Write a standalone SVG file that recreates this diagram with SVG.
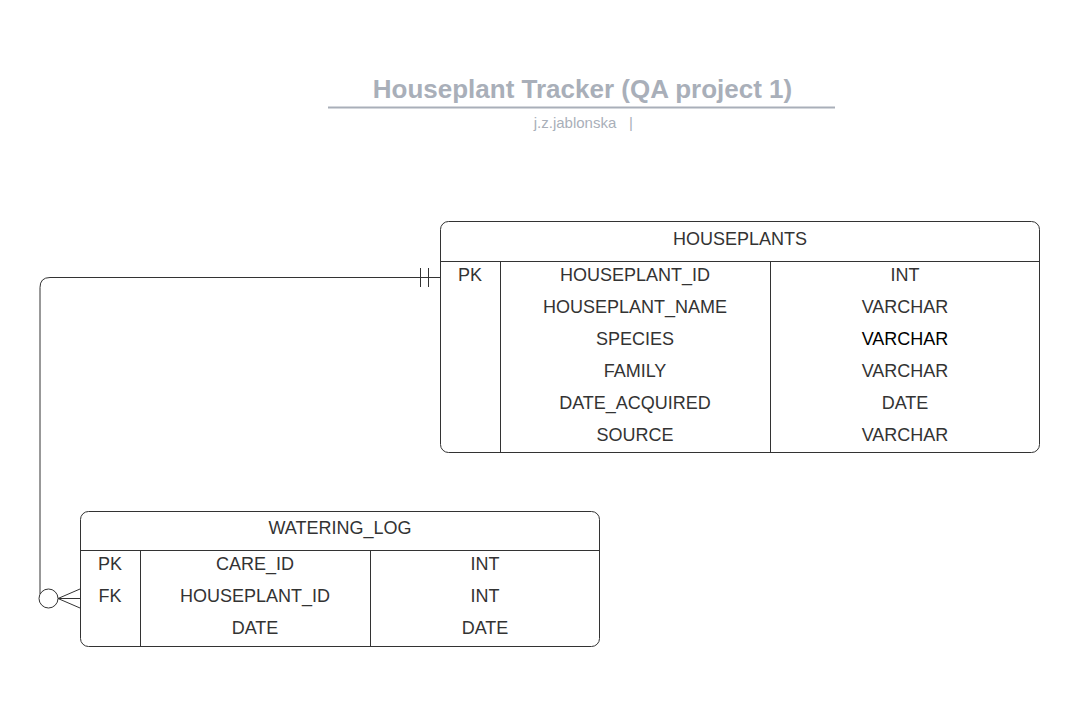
<svg xmlns="http://www.w3.org/2000/svg" width="1081" height="715" viewBox="0 0 1081 715">
<style>
.t{font-family:"Liberation Sans",Arial,sans-serif;font-size:18px;fill:#333;text-anchor:middle;dominant-baseline:central}
.box{fill:#fff;stroke:#333;stroke-width:1}
.ln{stroke:#333;stroke-width:1;fill:none}
</style>
<rect width="1081" height="715" fill="#fff"/>
<g id="title">
<text x="582.5" y="98" font-family="Liberation Sans,Arial,sans-serif" font-size="26" font-weight="bold" fill="#a9afb9" text-anchor="middle">Houseplant Tracker (QA project 1)</text>
<line x1="328" y1="107.5" x2="835" y2="107.5" stroke="#a9afb9" stroke-width="2"/>
<text x="575" y="128" font-family="Liberation Sans,Arial,sans-serif" font-size="15" fill="#a9afb9" text-anchor="middle">j.z.jablonska</text>
<text x="631" y="128" font-family="Liberation Sans,Arial,sans-serif" font-size="15" fill="#a9afb9" text-anchor="middle">|</text>
</g>
<g id="connectors">
<path class="ln" d="M440,277.5 H50 Q40,277.5 40,287.5 V594"/>
<line class="ln" x1="420.5" y1="268" x2="420.5" y2="287"/>
<line class="ln" x1="428.5" y1="268" x2="428.5" y2="287"/>
<circle class="ln" cx="48.5" cy="598.5" r="9.5"/>
<path class="ln" d="M80,589 L58,598.5 L80,608 M58,598.5 H80"/>
</g>
<g id="houseplants">
<rect class="box" x="440.5" y="221.5" width="599" height="231" rx="8"/>
<line class="ln" x1="440.5" y1="261.5" x2="1039.5" y2="261.5"/>
<line class="ln" x1="500.5" y1="261.5" x2="500.5" y2="452.5"/>
<line class="ln" x1="770.5" y1="261.5" x2="770.5" y2="452.5"/>
<text class="t" x="740" y="239">HOUSEPLANTS</text>
<text class="t" x="470" y="275">PK</text>
<text class="t" x="635" y="275">HOUSEPLANT_ID</text>
<text class="t" x="905" y="275">INT</text>
<text class="t" x="635" y="307">HOUSEPLANT_NAME</text>
<text class="t" x="905" y="307">VARCHAR</text>
<text class="t" x="635" y="339">SPECIES</text>
<text class="t" x="905" y="339" style="fill:#000">VARCHAR</text>
<text class="t" x="635" y="371">FAMILY</text>
<text class="t" x="905" y="371">VARCHAR</text>
<text class="t" x="635" y="403">DATE_ACQUIRED</text>
<text class="t" x="905" y="403">DATE</text>
<text class="t" x="635" y="435">SOURCE</text>
<text class="t" x="905" y="435">VARCHAR</text>
</g>
<g id="watering_log">
<rect class="box" x="80.5" y="511.5" width="519" height="135" rx="8"/>
<line class="ln" x1="80.5" y1="550.5" x2="599.5" y2="550.5"/>
<line class="ln" x1="140.5" y1="550.5" x2="140.5" y2="646.5"/>
<line class="ln" x1="370.5" y1="550.5" x2="370.5" y2="646.5"/>
<text class="t" x="340" y="528">WATERING_LOG</text>
<text class="t" x="110" y="564">PK</text>
<text class="t" x="255" y="564">CARE_ID</text>
<text class="t" x="485" y="564">INT</text>
<text class="t" x="110" y="596">FK</text>
<text class="t" x="255" y="596">HOUSEPLANT_ID</text>
<text class="t" x="485" y="596">INT</text>
<text class="t" x="255" y="628">DATE</text>
<text class="t" x="485" y="628">DATE</text>
</g>
</svg>
